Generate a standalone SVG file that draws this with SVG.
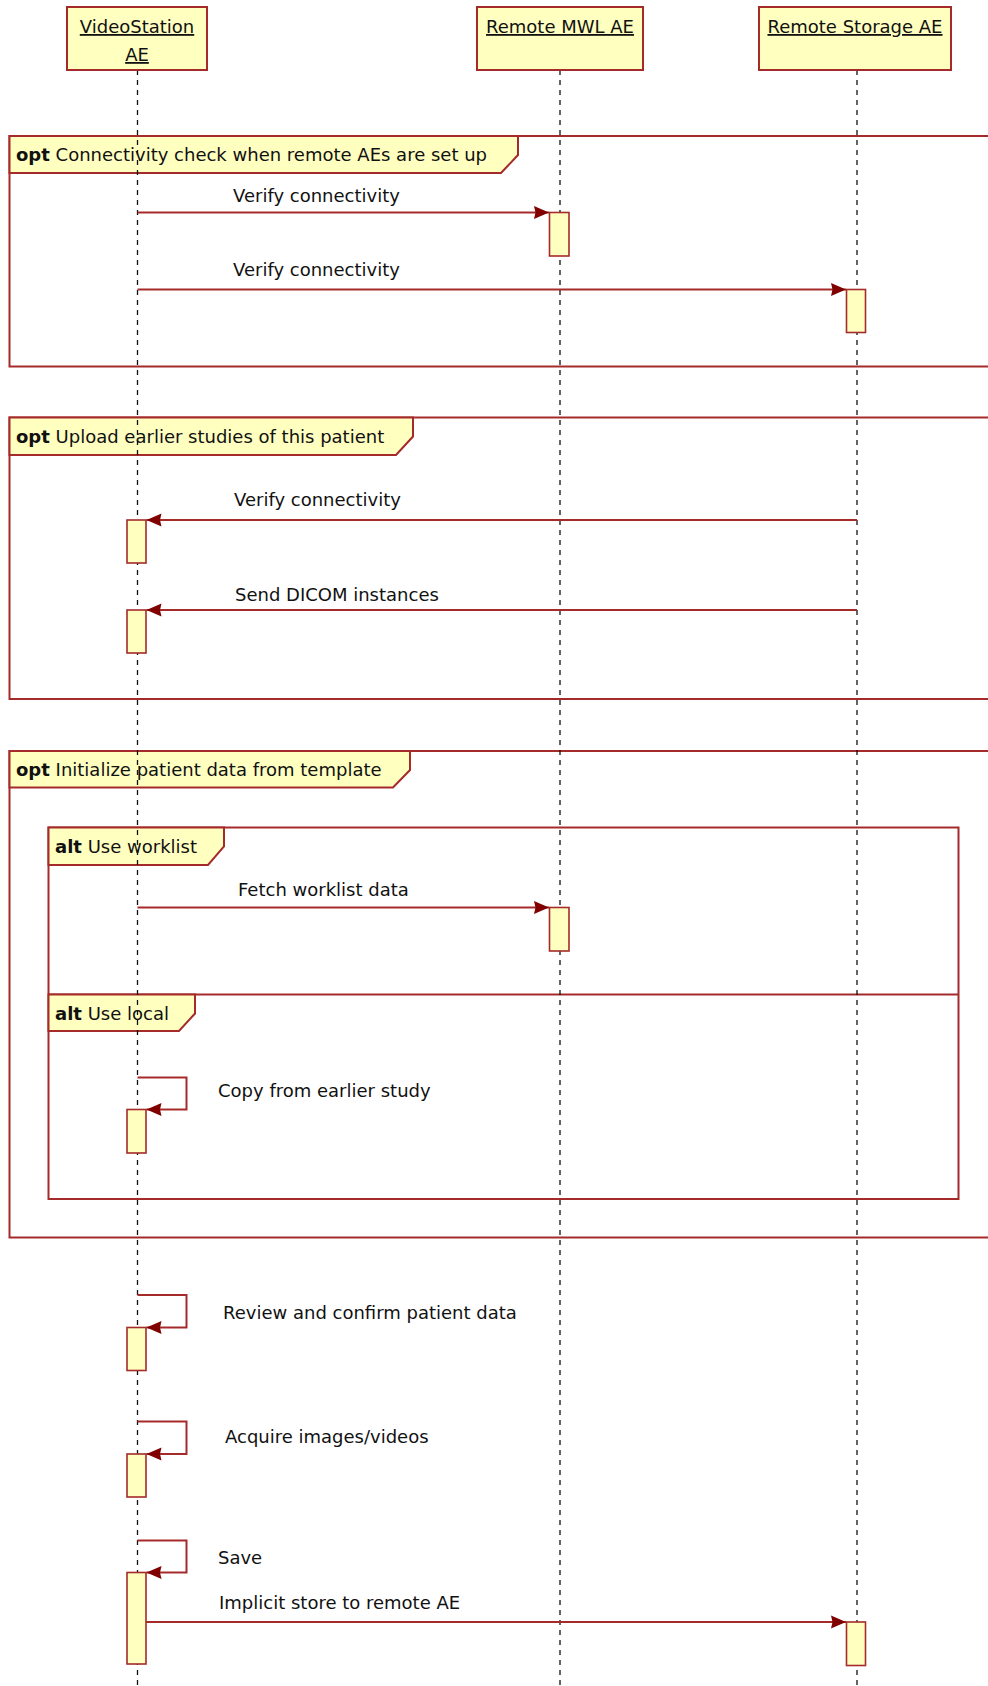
<svg xmlns="http://www.w3.org/2000/svg" width="988" height="1686" viewBox="0 0 988 1686">
<defs>
<marker id="ah" markerUnits="userSpaceOnUse" markerWidth="16" markerHeight="16" refX="15" refY="7.5" orient="auto">
<path d="M0,1 L15,7.5 L0,14 L1.5,7.5 z" fill="#800000"/>
</marker>
<style>
text{font-family:"DejaVu Sans","Liberation Sans",sans-serif;font-size:18px;fill:#111}
.hdr{text-anchor:middle;text-decoration:underline}
.box{fill:#FFFFC0;stroke:#A52A2A;stroke-width:2}
.act{fill:#FFFFC0;stroke:#A52A2A;stroke-width:1.6}
.frame{fill:none;stroke:#A52A2A;stroke-width:2}
.tag{fill:#FFFFC0;stroke:#A52A2A;stroke-width:2}
.life{stroke:#111;stroke-width:1.3;stroke-dasharray:5,5;fill:none}
.msg{stroke:#A52A2A;stroke-width:2;fill:none;marker-end:url(#ah)}
.kw{font-weight:bold}
</style>
</defs>
<rect width="988" height="1686" fill="#fff"/>

<g id="frames">
<g id="frame-opt1">
<rect class="frame" x="9.5" y="136" width="990" height="230.5"/>
<path class="tag" d="M9.5,136 H518 V155 L501,173 H9.5 Z"/>
<text x="16" y="161"><tspan class="kw">opt</tspan> Connectivity check when remote AEs are set up</text>
</g>
<g id="frame-opt2">
<rect class="frame" x="9.5" y="417.5" width="990" height="281.5"/>
<path class="tag" d="M9.5,417.5 H413 V436.5 L396,455 H9.5 Z"/>
<text x="16" y="443"><tspan class="kw">opt</tspan> Upload earlier studies of this patient</text>
</g>
<g id="frame-opt3">
<rect class="frame" x="9.5" y="751" width="990" height="486.5"/>
<path class="tag" d="M9.5,751 H410 V770 L393,787.5 H9.5 Z"/>
<text x="16" y="776"><tspan class="kw">opt</tspan> Initialize patient data from template</text>
</g>
<g id="frame-alt">
<rect class="frame" x="48.5" y="827.5" width="910" height="371.5"/>
<line class="frame" x1="48.5" y1="994.5" x2="958.5" y2="994.5"/>
<path class="tag" d="M48.5,827.5 H224 V846.5 L208,865 H48.5 Z"/>
<text x="55" y="853"><tspan class="kw">alt</tspan> Use worklist</text>
<path class="tag" d="M48.5,994.5 H195 V1013.5 L179,1031 H48.5 Z"/>
<text x="55" y="1020"><tspan class="kw">alt</tspan> Use local</text>
</g>
</g>

<g id="lifelines">
<line class="life" x1="137.5" y1="70" x2="137.5" y2="1686"/>
<line class="life" x1="560" y1="70" x2="560" y2="1686"/>
<line class="life" x1="857" y1="70" x2="857" y2="1686"/>
</g>

<g id="videostation">
<rect class="box" x="67" y="7" width="140" height="63"/>
<text class="hdr" x="137" y="33">VideoStation</text>
<text class="hdr" x="137" y="61">AE</text>
</g>
<g id="mwl">
<rect class="box" x="477" y="7" width="166" height="63"/>
<text class="hdr" x="560" y="33">Remote MWL AE</text>
</g>
<g id="storage">
<rect class="box" x="759" y="7" width="192" height="63"/>
<text class="hdr" x="855" y="33">Remote Storage AE</text>
</g>

<g id="activations">
<rect class="act" x="549.5" y="212.5" width="19.5" height="43.5"/>
<rect class="act" x="846.5" y="289.5" width="19" height="43"/>
<rect class="act" x="127" y="520" width="19" height="43"/>
<rect class="act" x="127" y="610" width="19" height="43"/>
<rect class="act" x="549.5" y="907.5" width="19.5" height="43.5"/>
<rect class="act" x="127" y="1109.5" width="19" height="43.5"/>
<rect class="act" x="127" y="1327.5" width="19" height="43"/>
<rect class="act" x="127" y="1454" width="19" height="43"/>
<rect class="act" x="127" y="1572.5" width="19" height="91.5"/>
<rect class="act" x="846.5" y="1622" width="19" height="43.5"/>
</g>

<g id="connectors">
<line class="msg" x1="137.5" y1="212.5" x2="549" y2="212.5"/>
<text x="233" y="202">Verify connectivity</text>
<line class="msg" x1="137.5" y1="289.5" x2="846" y2="289.5"/>
<text x="233" y="276">Verify connectivity</text>
<line class="msg" x1="857" y1="520" x2="146.5" y2="520"/>
<text x="234" y="506">Verify connectivity</text>
<line class="msg" x1="857" y1="610" x2="146.5" y2="610"/>
<text x="235" y="601">Send DICOM instances</text>
<line class="msg" x1="137.5" y1="907.5" x2="549" y2="907.5"/>
<text x="238" y="896">Fetch worklist data</text>
<polyline class="msg" points="137.5,1077.5 186.5,1077.5 186.5,1109.5 146.5,1109.5"/>
<text x="218" y="1097">Copy from earlier study</text>
<polyline class="msg" points="137.5,1295 186.5,1295 186.5,1327.5 146.5,1327.5"/>
<text x="223" y="1319">Review and confirm patient data</text>
<polyline class="msg" points="137.5,1421.5 186.5,1421.5 186.5,1454 146.5,1454"/>
<text x="225" y="1443">Acquire images/videos</text>
<polyline class="msg" points="137.5,1540.5 186.5,1540.5 186.5,1572.5 146.5,1572.5"/>
<text x="218" y="1564">Save</text>
<line class="msg" x1="146" y1="1622" x2="846" y2="1622"/>
<text x="219" y="1609">Implicit store to remote AE</text>
</g>
</svg>
